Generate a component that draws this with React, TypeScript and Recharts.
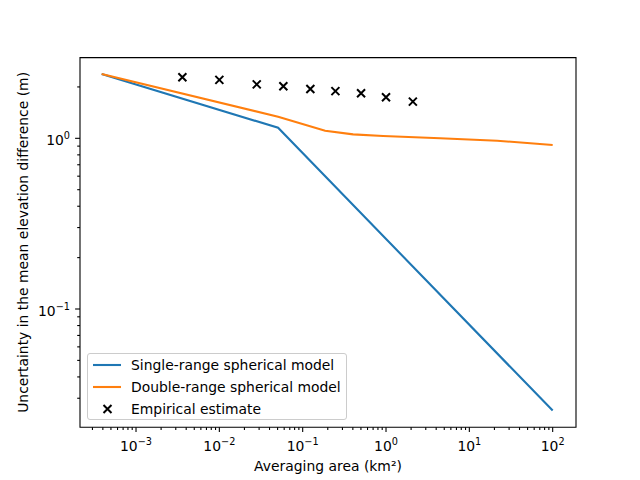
import { ComposedChart, Line, Scatter, XAxis, YAxis, ReferenceArea } from 'recharts'

const FONT = '"DejaVu Sans", sans-serif'
const FS = 13.9

const singleX = [3.87e-4, 0.0507, 100]
const singleY = [2.38, 1.153, 0.0254]

const doubleX = [3.87e-4, 0.0507, 0.186, 0.403, 0.923, 4.46, 21.6, 100]
const doubleY = [2.38, 1.338, 1.108, 1.055, 1.032, 1.0, 0.968, 0.913]

const empX = [0.0036, 0.01, 0.0281, 0.0586, 0.1236, 0.247, 0.502, 1.0, 2.1]
const empY = [2.28, 2.2, 2.07, 2.02, 1.945, 1.89, 1.835, 1.74, 1.64]

const xMajor = [-3, -2, -1, 0, 1, 2]
const yMajor = [-1, 0]
const X_DOMAIN = [2.127e-4, 190.5]
const Y_DOMAIN = [0.0203, 2.971]

const zip = (xs: number[], ys: number[]) => xs.map((x, i) => ({ x, y: ys[i] }))
const single = zip(singleX, singleY)
const double = zip(doubleX, doubleY)
const emp = zip(empX, empY)

// majors + minors within the domain
function logTicks(domain: number[], exps: number[]) {
  const out: number[] = []
  for (let e = exps[0] - 1; e <= exps[exps.length - 1]; e++) {
    for (let m = 1; m <= 9; m++) {
      const v = m * Math.pow(10, e)
      if (v >= domain[0] && v <= domain[1]) out.push(+v.toPrecision(3))
    }
  }
  return out
}
const xTicks = logTicks(X_DOMAIN, xMajor)
const yTicks = logTicks(Y_DOMAIN, yMajor)

const expOf = (v: number) => {
  const e = Math.round(Math.log10(v))
  return Math.abs(v - Math.pow(10, e)) < 1e-9 * Math.pow(10, e) ? e : null
}
const sup = (e: number) => (e < 0 ? '\u2212' + Math.abs(e) : String(e))

function XTick(props: any) {
  const { x, y, payload } = props
  const e = expOf(payload.value)
  const len = e === null ? 2.8 : 4.9
  return (
    <g>
      <line x1={x} x2={x} y1={y} y2={y + len} stroke="#000" strokeWidth={1.1} />
      {e !== null && (
        <text x={x} y={y + 24} textAnchor="middle" fontFamily={FONT} fontSize={FS} fill="#000">
          <tspan>10</tspan>
          <tspan dy={-6} fontSize={FS * 0.7}>{sup(e)}</tspan>
        </text>
      )}
    </g>
  )
}

function YTick(props: any) {
  const { x, y, payload } = props
  const e = expOf(payload.value)
  const len = e === null ? 2.8 : 4.9
  return (
    <g>
      <line x1={x} x2={x - len} y1={y} y2={y} stroke="#000" strokeWidth={1.1} />
      {e !== null && (
        <text x={x - 10} y={y + 7} textAnchor="end" fontFamily={FONT} fontSize={FS} fill="#000">
          <tspan>10</tspan>
          <tspan dy={-6} fontSize={FS * 0.7}>{sup(e)}</tspan>
        </text>
      )}
    </g>
  )
}

const Cross = (props: any) => {
  const { cx, cy } = props
  const r = 4
  return (
    <path
      d={`M${cx - r},${cy - r}L${cx + r},${cy + r}M${cx - r},${cy + r}L${cx + r},${cy - r}`}
      stroke="#000"
      strokeWidth={2}
      fill="none"
    />
  )
}

const legendRows = [
  { label: 'Single-range spherical model', color: '#1f77b4', kind: 'line' },
  { label: 'Double-range spherical model', color: '#ff7f0e', kind: 'line' },
  { label: 'Empirical estimate', color: '#000', kind: 'x' },
]

export default function App() {
  return (
    <div style={{ position: 'absolute', left: 0, top: 0, width: 640, height: 480, background: '#fff' }}>
      <ComposedChart width={640} height={480} margin={{ top: 57.6, right: 64, bottom: 0, left: 0 }}>
        <XAxis
          dataKey="x"
          type="number"
          scale="log"
          domain={X_DOMAIN}
          allowDataOverflow
          ticks={xTicks}
          interval={0}
          tick={<XTick />}
          tickSize={0}
          tickMargin={0}
          tickLine={false}
          axisLine={false}
          height={52.8}
          label={({ viewBox }: any) => (
            <text x={viewBox.x + viewBox.width / 2} y={viewBox.y + 44} textAnchor="middle" fontFamily={FONT} fontSize={FS} fill="#000">
              Averaging area (km²)
            </text>
          )}
        />
        <YAxis
          dataKey="y"
          type="number"
          scale="log"
          domain={Y_DOMAIN}
          allowDataOverflow
          ticks={yTicks}
          interval={0}
          tick={<YTick />}
          tickSize={0}
          tickMargin={0}
          tickLine={false}
          axisLine={false}
          width={80}
          label={({ viewBox }: any) => {
            const cy = viewBox.y + viewBox.height / 2
            return (
              <text x={28} y={cy} transform={`rotate(-90 28 ${cy})`} textAnchor="middle" fontFamily={FONT} fontSize={FS} fill="#000">
                Uncertainty in the mean elevation difference (m)
              </text>
            )
          }}
        />
        <ReferenceArea x1={X_DOMAIN[0]} x2={X_DOMAIN[1]} y1={Y_DOMAIN[0]} y2={Y_DOMAIN[1]} fill="none" stroke="#000" strokeWidth={1.1} fillOpacity={0} />
        <Line data={single} dataKey="y" stroke="#1f77b4" strokeWidth={2.1} dot={false} isAnimationActive={false} />
        <Line data={double} dataKey="y" stroke="#ff7f0e" strokeWidth={2.1} dot={false} isAnimationActive={false} />
        <Scatter data={emp} dataKey="y" shape={<Cross />} isAnimationActive={false} />
      </ComposedChart>
      <div
        style={{
          position: 'absolute',
          left: 87,
          top: 353,
          width: 258,
          height: 65,
          border: '1px solid #ccc',
          borderRadius: 3,
          background: 'rgba(255,255,255,0.8)',
          fontFamily: FONT,
          fontSize: FS,
          paddingTop: 0,
        }}
      >
        {legendRows.map(r => (
          <div key={r.label} style={{ display: 'flex', alignItems: 'center', height: 22 }}>
            <svg width={43} height={14} style={{ flex: 'none' }}>
              {r.kind === 'line' ? (
                <line x1={5} x2={33} y1={7} y2={7} stroke={r.color} strokeWidth={2.1} />
              ) : (
                <path d="M15.5,3L23.5,11M15.5,11L23.5,3" stroke="#000" strokeWidth={2} />
              )}
            </svg>
            <span style={{ whiteSpace: 'nowrap' }}>{r.label}</span>
          </div>
        ))}
      </div>
    </div>
  )
}
